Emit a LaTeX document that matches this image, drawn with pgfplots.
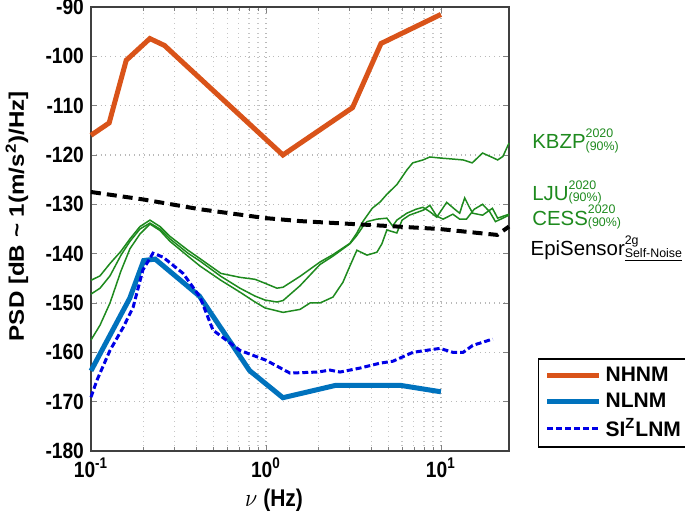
\documentclass[border=0pt]{standalone}
\usepackage{pgfplots}
\pgfplotsset{compat=1.18}
\usepackage{fontspec}
\setmainfont{Liberation Sans}
\definecolor{nhnm}{HTML}{D95319}
\definecolor{nlnm}{HTML}{0072BD}
\definecolor{siz}{HTML}{0000E6}
\definecolor{grn}{HTML}{1E8A1E}
\newcommand{\supsub}[2]{\rlap{\raisebox{5.5pt}{\fontsize{6.2}{6}\selectfont #1}}\raisebox{-0.6pt}{\fontsize{6.2}{6}\selectfont #2}}
\newcommand{\sy}[1]{\scalebox{1}[1.15]{#1}}

\begin{document}
\begin{tikzpicture}
\path[use as bounding box] (-45.5pt,-30.5pt) rectangle (297pt,225.5pt);
\begin{axis}[
    scale only axis,
    width=209pt, height=222pt,
    xmode=log,
    xmin=0.1, xmax=24.5,
    ymin=-180, ymax=-90,
    xtick={0.1,1,10},
    xticklabels={\sy{10\textsuperscript{-1}},\sy{10\textsuperscript{0}},\sy{10\textsuperscript{1}}},
    ytick={-180,-170,...,-90},
    yticklabels={\sy{-180},\sy{-170},\sy{-160},\sy{-150},\sy{-140},\sy{-130},\sy{-120},\sy{-110},\sy{-100},\sy{-90}},
    tick label style={font=\fontsize{9.6}{10}\bfseries},
    ymajorgrids, xmajorgrids, xminorgrids,
    major grid style={gray!55, dotted, line width=0.6pt},
    minor grid style={gray!45, dotted, line width=0.6pt},
    tick align=inside,
    major tick length=3pt, minor tick length=2pt,
    axis line style={black!75, line width=0.6pt},
    clip=false,
    xlabel={\sy{$\nu$ (Hz)}},
    ylabel={\scalebox{1.15}[1]{PSD [dB \textasciitilde\ 1(m/s\textsuperscript{2})/Hz]}},
    label style={font=\fontsize{10.5}{12}\bfseries},
    xlabel style={at={(rel axis cs:0.438,0)}, anchor=center, yshift=-24.5pt},
    ylabel style={at={(rel axis cs:-0.177,0.529)}, anchor=center},
    legend cell align=left,
    legend style={at={(rel axis cs:1.069,0.007)}, anchor=south west,
        draw=black, line width=0.8pt, font=\fontsize{10.5}{12}\bfseries,
        inner xsep=3pt, inner ysep=2pt, row sep=0pt},
    legend image code/.code={\draw[#1] (0pt,0pt) -- (26pt,0pt);},
]
% green station curves
\addplot[grn, line width=0.75pt, forget plot] coordinates {
(0.1,-145.4) (0.1126,-144.5) (0.1284,-142) (0.1484,-139.5) (0.167,-137) (0.1906,-134.5)
(0.2173,-133.2) (0.2479,-134.5) (0.2828,-136.5) (0.3581,-139.3) (0.4196,-141) (0.5527,-144)
(0.7103,-144.8) (0.8664,-145.2) (0.9872,-146) (1.156,-147) (1.253,-146.8) (1.566,-144.6)
(2.036,-141.7) (2.415,-140.2) (3.02,-137.9) (3.31,-135.8) (3.58,-133.5) (4.05,-130.8)
(4.5,-129.5) (4.9,-128) (5.6,-126) (6.4,-123) (6.9,-121.6) (7.9,-121) (8.65,-120.4)
(9.8,-120.6) (11.5,-120.8) (13.4,-121) (15.1,-121.6) (17.3,-119.6) (19.7,-120.5)
(21.1,-121) (22.6,-120.3) (24.5,-117.6)};
\addplot[grn, line width=0.75pt, forget plot] coordinates {
(0.1,-148.2) (0.1126,-147) (0.1284,-144.5) (0.1484,-140.3) (0.167,-137.5) (0.1906,-135)
(0.2173,-133.8) (0.2479,-135) (0.2828,-137) (0.3581,-139.9) (0.4196,-141.5) (0.5527,-144.6)
(0.7103,-147) (0.8664,-148.6) (0.9872,-149.4) (1.156,-149.8) (1.253,-149.5) (1.566,-146.5)
(2.036,-142.2) (2.415,-140.5) (3.02,-138) (3.31,-136.3) (3.58,-134.5) (3.78,-133.5)
(4.31,-133) (4.91,-132.8) (5.3,-134.4) (5.6,-133.2) (6.39,-131.8) (7.2,-131) (7.9,-130.6)
(8.65,-131.5) (9.47,-132.6) (10.79,-129.6) (12.0,-131) (12.8,-131.8) (13.67,-128.7)
(14.5,-130.5) (15.2,-131.8) (17.3,-132.2) (19.7,-130.8) (21.1,-132.8) (24.5,-132)};
\addplot[grn, line width=0.75pt, forget plot] coordinates {
(0.1,-157.5) (0.1126,-154.5) (0.1284,-150) (0.1484,-143.5) (0.167,-139) (0.1906,-136)
(0.2173,-134) (0.2479,-135.3) (0.2828,-137.5) (0.3581,-140.5) (0.4196,-142.5) (0.5527,-145.4)
(0.7103,-147.8) (0.8664,-149.8) (0.9872,-151) (1.253,-151.9) (1.566,-151.3) (1.786,-150)
(2.036,-150) (2.415,-148.8) (2.754,-145.8) (3.02,-142.5) (3.31,-139.3) (3.78,-140.3)
(4.31,-139.7) (4.6,-138) (4.91,-135.2) (5.6,-135.8) (6.0,-133.2) (6.6,-132.2) (7.9,-131.2)
(8.65,-130.2) (9.47,-132.4) (10.3,-133) (11.7,-132) (12.8,-133) (14,-133) (15.5,-131)
(17.3,-130) (19.0,-131.5) (20.5,-133.5) (22,-133) (24.5,-132.2)};
% EpiSensor self-noise
\addplot[black, line width=2pt, dash pattern=on 5pt off 3pt, forget plot] coordinates {
(0.1,-127.5) (0.198,-129) (0.42,-131) (1,-132.8) (1.57,-133.4) (4.5,-134.3)
(9.8,-135) (21,-136.2) (24.5,-134.5)};
% NHNM
\addplot[nhnm, line width=2.5pt] coordinates {
(0.1,-116) (0.127,-113.5) (0.159,-100.8) (0.217,-96.4) (0.263,-97.8) (1.25,-120)
(3.125,-110.4) (4.545,-97.4) (10,-91.5)};
\addlegendentry{NHNM}
% NLNM
\addplot[nlnm, line width=2.5pt] coordinates {
(0.1,-163.75) (0.1667,-149.0) (0.2,-141.4) (0.2326,-141.1) (0.4167,-148.6) (0.806,-163.7)
(1.25,-169.2) (2.5,-166.7) (5.88,-166.7) (10,-168.0)};
\addlegendentry{NLNM}
% SIz LNM
\addplot[siz, line width=1.5pt, dash pattern=on 3pt off 1.5pt] coordinates {
(0.1,-169.1) (0.108,-165.7) (0.1284,-159.6) (0.1524,-155) (0.174,-150.9) (0.198,-143.3)
(0.226,-139.9) (0.258,-140.7) (0.336,-144) (0.42,-148.8) (0.498,-155.5) (0.71,-159.6)
(1.0,-161.6) (1.37,-164.2) (1.98,-164) (2.32,-163.6) (2.65,-164) (3.44,-163.2)
(4.48,-162.2) (5.32,-161.8) (6.92,-160) (9.87,-159.2) (11.7,-160) (13.4,-160)
(15.2,-158.6) (19.8,-157.3)};
\addlegendentry{SI\textsuperscript{Z}LNM}
% station labels
\node[anchor=base west, grn, font=\fontsize{10.2}{12}\selectfont, inner sep=0pt]
  at (rel axis cs:1.055,0.6802) {KBZP\supsub{2020}{(90\%)}};
\node[anchor=base west, grn, font=\fontsize{10.2}{12}\selectfont, inner sep=0pt]
  at (rel axis cs:1.055,0.5653) {LJU\supsub{2020}{(90\%)}};
\node[anchor=base west, grn, font=\fontsize{10.2}{12}\selectfont, inner sep=0pt]
  at (rel axis cs:1.055,0.509) {CESS\supsub{2020}{(90\%)}};
\node[anchor=base west, black, font=\fontsize{10.2}{12}\selectfont, inner sep=0pt]
  at (rel axis cs:1.051,0.4392) {EpiSensor\supsub{2g}{\underline{Self-Noise}}};
\end{axis}
\end{tikzpicture}
\end{document}
